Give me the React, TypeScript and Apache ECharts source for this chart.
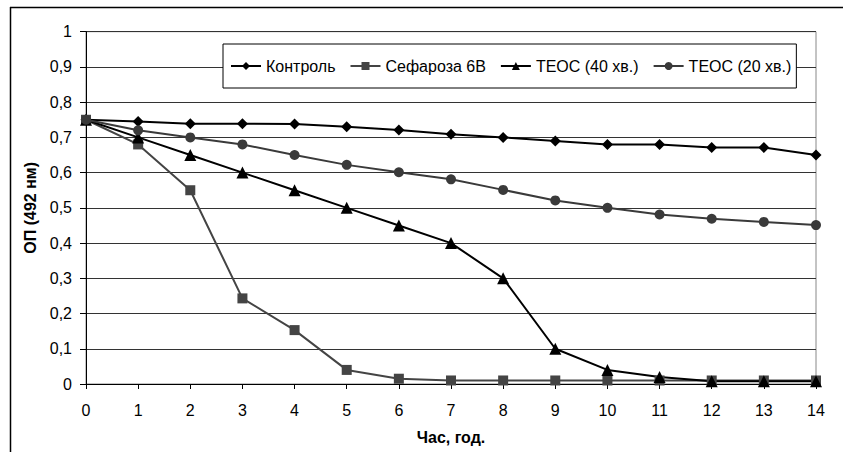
import React, { useEffect, useRef } from "react";
import * as echarts from "echarts";

const hours = [0, 1, 2, 3, 4, 5, 6, 7, 8, 9, 10, 11, 12, 13, 14];
const control = [0.75, 0.745, 0.739, 0.739, 0.738, 0.73, 0.721, 0.709, 0.7, 0.69, 0.68, 0.68, 0.671, 0.671, 0.65];
const sepharose = [0.75, 0.68, 0.55, 0.243, 0.153, 0.04, 0.015, 0.01, 0.01, 0.01, 0.01, 0.01, 0.01, 0.01, 0.01];
const teos40 = [0.75, 0.7, 0.65, 0.6, 0.55, 0.5, 0.45, 0.4, 0.3, 0.1, 0.04, 0.02, 0.008, 0.008, 0.008];
const teos20 = [0.75, 0.72, 0.7, 0.68, 0.65, 0.622, 0.601, 0.581, 0.551, 0.521, 0.5, 0.481, 0.469, 0.46, 0.451];
const seriesNames = ["Контроль", "Сефароза 6В", "ТЕОС (40 хв.)", "ТЕОС (20 хв.)"];
const xTitle = "Час, год.";
const yTitle = "ОП (492 нм)";

const pairs = (vals: number[]) => hours.map((h, i) => [h, vals[i]]);

export default function App() {
  const ref = useRef<HTMLDivElement>(null);
  useEffect(() => {
    document.body.style.margin = "0";
    const chart = echarts.init(ref.current!, null, { renderer: "svg" });
    const font = "'Liberation Sans', Arial, sans-serif";
    const mk = (name: string, data: number[], color: string, symbol: string, size: number) => ({
      name,
      type: "line",
      data: pairs(data),
      symbol,
      symbolSize: size,
      lineStyle: { color, width: 2 },
      itemStyle: { color },
      z: 3,
    });
    chart.setOption({
      animation: false,
      backgroundColor: "#fff",
      textStyle: { fontFamily: font },
      graphic: [
        { type: "line", shape: { x1: 10, y1: 7.5, x2: 843, y2: 7.5 }, style: { stroke: "#000", lineWidth: 1.5 } },
        { type: "line", shape: { x1: 10.5, y1: 7, x2: 10.5, y2: 452 }, style: { stroke: "#000", lineWidth: 1.5 } },
      ],
      grid: { left: 86, right: 27, top: 31.7, bottom: 68, show: true, borderColor: "#888", borderWidth: 1 },
      legend: {
        left: 223,
        top: 44,
        padding: [14, 5, 14, 7],
        borderColor: "#000",
        borderWidth: 1,
        backgroundColor: "#fff",
        itemWidth: 30,
        itemHeight: 10,
        itemGap: 14,
        textStyle: { fontSize: 16, color: "#000", fontFamily: font },
        data: seriesNames,
      },
      xAxis: {
        type: "value",
        min: 0,
        max: 14,
        interval: 1,
        name: xTitle,
        nameLocation: "middle",
        nameGap: 45,
        nameTextStyle: { fontWeight: "bold", fontSize: 16, color: "#000" },
        axisLine: { lineStyle: { color: "#000", width: 1 } },
        axisTick: { show: true, length: 5, lineStyle: { color: "#000" } },
        axisLabel: { color: "#000", fontSize: 16, margin: 18 },
        splitLine: { show: false },
      },
      yAxis: {
        type: "value",
        min: 0,
        max: 1,
        interval: 0.1,
        name: yTitle,
        nameLocation: "middle",
        nameGap: 48,
        nameTextStyle: { fontWeight: "bold", fontSize: 16, color: "#000" },
        axisLine: { show: true, lineStyle: { color: "#000", width: 1 } },
        axisTick: { show: true, length: 6, lineStyle: { color: "#000" } },
        axisLabel: {
          color: "#000",
          fontSize: 16,
          margin: 14,
          formatter: (v: number) => String(Math.round(v * 10) / 10).replace(".", ","),
        },
        splitLine: { show: true, lineStyle: { color: "#333", width: 1 } },
      },
      series: [
        mk(seriesNames[0], control, "#000", "diamond", 11),
        mk(seriesNames[1], sepharose, "#444", "rect", 10),
        mk(seriesNames[2], teos40, "#000", "triangle", 12),
        mk(seriesNames[3], teos20, "#3a3a3a", "circle", 10),
      ],
    });
    return () => chart.dispose();
  }, []);
  return <div ref={ref} style={{ width: 843, height: 452 }} />;
}
